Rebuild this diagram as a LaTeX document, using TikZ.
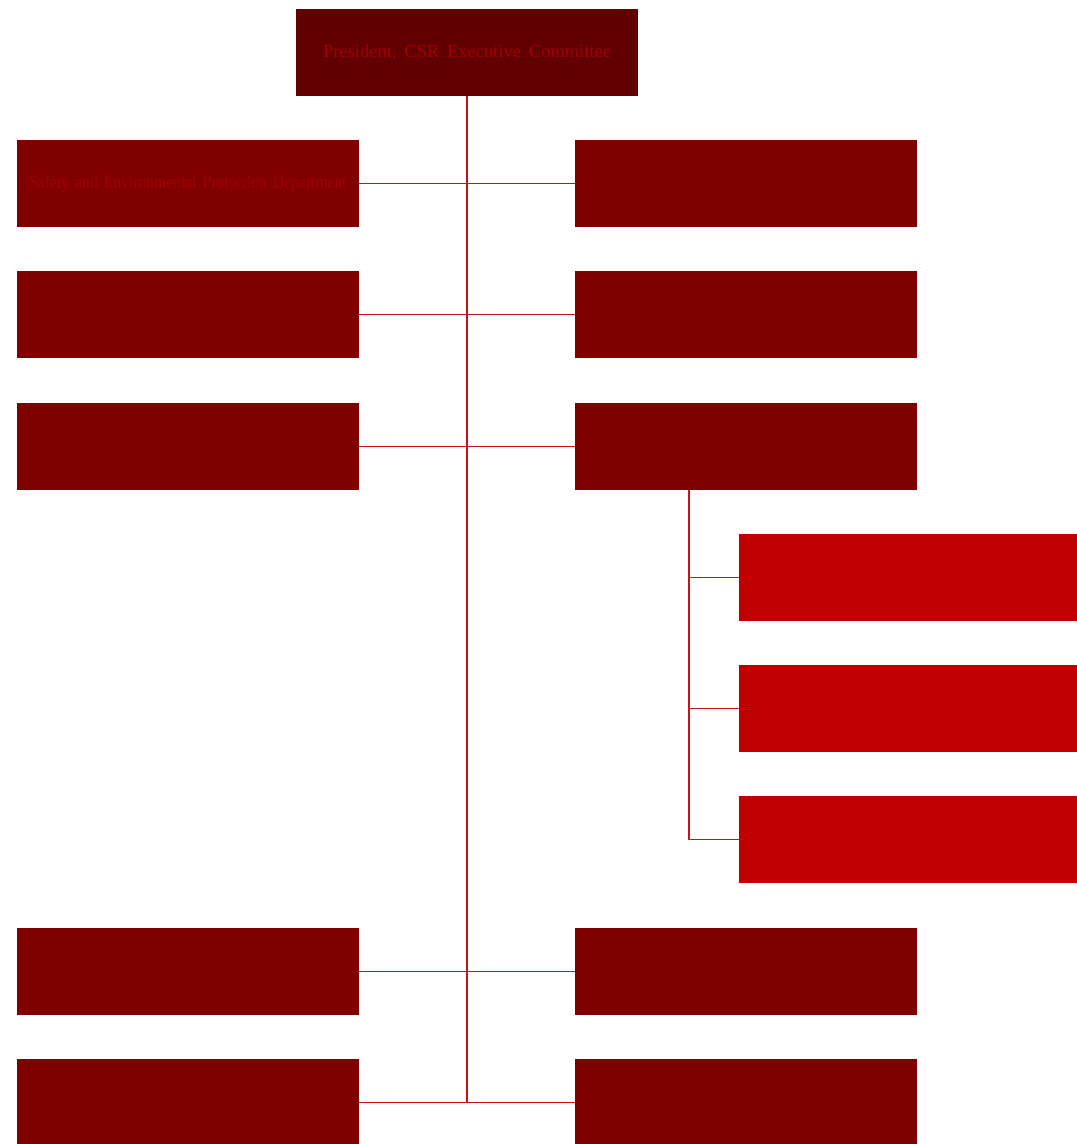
\documentclass[tikz,border=0pt]{standalone}
\usepackage{fontspec}
\setmainfont{Liberation Serif}
\definecolor{topfill}{RGB}{96,0,0}
\definecolor{mainfill}{RGB}{128,0,0}
\definecolor{subfill}{RGB}{192,0,0}
\definecolor{linecol}{RGB}{200,20,20}
\definecolor{textcol}{RGB}{160,0,0}
\tikzset{
  box/.style={minimum width=342pt, minimum height=87pt, inner sep=0pt, draw=none, fill=mainfill, text=textcol},
  topbox/.style={box, fill=topfill},
  subbox/.style={box, minimum width=338pt, fill=subfill},
  conn/.style={draw=linecol, line width=1.8pt}
}
\begin{document}
\begin{tikzpicture}[x=1pt,y=-1pt]
\useasboundingbox (0,0) rectangle (1077,1144);
\node[topbox] (top) at (467,52.5) {\fontsize{18.5}{22}\selectfont\spaceskip=0.42em\relax President, CSR Executive Committee};
\node[box] (l1) at (188,183.5) {\scalebox{0.82}[1]{\fontsize{19}{22}\selectfont\spaceskip=0.4em\relax Safety and Environmental Protection Department}};
\node[box] (r1) at (746,183.5) {};
\node[box] (l2) at (188,314.5) {};
\node[box] (r2) at (746,314.5) {};
\node[box] (l3) at (188,446.5) {};
\node[box] (r3) at (746,446.5) {};
\node[subbox] (s1) at (908,577.5) {};
\node[subbox] (s2) at (908,708.5) {};
\node[subbox] (s3) at (908,839.5) {};
\node[box] (l4) at (188,971.5) {};
\node[box] (r4) at (746,971.5) {};
\node[box] (l5) at (188,1102.5) {};
\node[box] (r5) at (746,1102.5) {};
\coordinate (sb) at (467,1102.5);
\coordinate (sx) at (689,490);
\draw[conn] (top.south) -- (sb);
\draw[conn] (l1.east) -- (r1.west);
\draw[conn] (l2.east) -- (r2.west);
\draw[conn] (l3.east) -- (r3.west);
\draw[conn] (l4.east) -- (r4.west);
\draw[conn] (l5.east) -- (r5.west);
\draw[conn] (sx) -- (sx |- s3.west);
\draw[conn] (sx |- s1.west) -- (s1.west);
\draw[conn] (sx |- s2.west) -- (s2.west);
\draw[conn] (sx |- s3.west) -- (s3.west);
\end{tikzpicture}
\end{document}
